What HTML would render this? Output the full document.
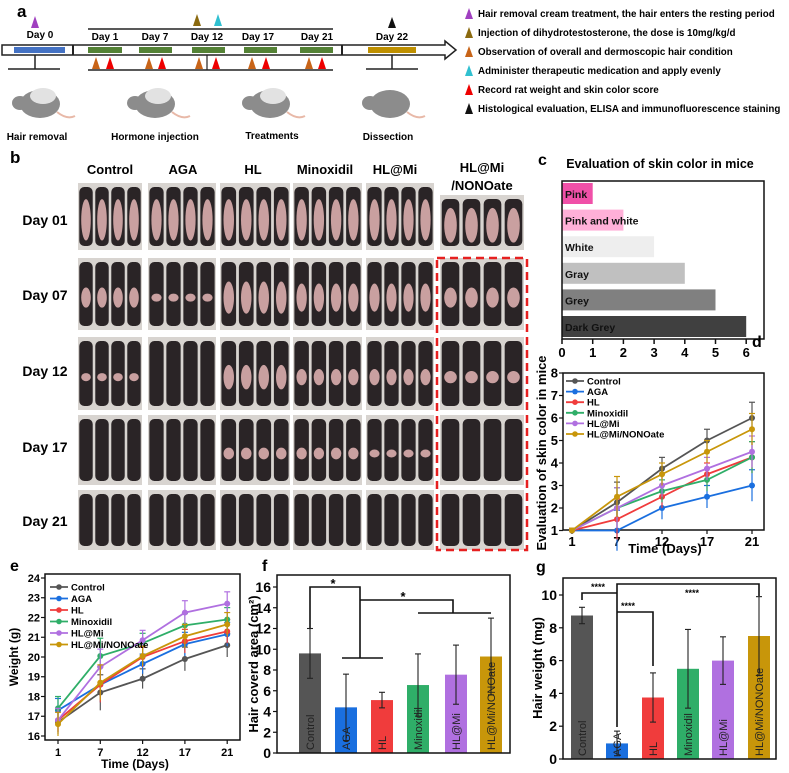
<!DOCTYPE html>
<html><head><meta charset="utf-8"><style>
body{margin:0;background:#fff}
svg{display:block;font-family:"Liberation Sans",Arial,sans-serif;font-weight:bold}
</style></head><body>
<svg id="fig" width="789" height="773" viewBox="0 0 789 773" xmlns="http://www.w3.org/2000/svg">
<!-- Panel a -->
<g>
<text x="17" y="17" font-size="17">a</text>
<polygon points="2,45 445,45 445,41 456,50 445,59 445,55 2,55" fill="#fff" stroke="#222" stroke-width="1.5"/>
<rect x="14" y="47" width="51" height="6" fill="#4472c4"/>
<rect x="72" y="45" width="2" height="10" fill="#222"/><rect x="341" y="45" width="2" height="10" fill="#222"/>
<rect x="88" y="47" width="34" height="6" fill="#548235"/><rect x="139" y="47" width="33" height="6" fill="#548235"/>
<rect x="192" y="47" width="33" height="6" fill="#548235"/><rect x="244" y="47" width="33" height="6" fill="#548235"/>
<rect x="300" y="47" width="33" height="6" fill="#548235"/><rect x="368" y="47" width="48" height="6" fill="#bf9000"/>
<line x1="88" y1="29" x2="333" y2="29" stroke="#222" stroke-width="1.5"/>
<line x1="88" y1="70" x2="333" y2="70" stroke="#222" stroke-width="1.5"/>
<line x1="207" y1="55" x2="207" y2="70" stroke="#222" stroke-width="1.2"/>
<line x1="35" y1="55" x2="35" y2="69" stroke="#222" stroke-width="1.5"/><line x1="8" y1="69" x2="60" y2="69" stroke="#222" stroke-width="1.5"/>
<line x1="392" y1="55" x2="392" y2="69" stroke="#222" stroke-width="1.5"/><line x1="366" y1="69" x2="418" y2="69" stroke="#222" stroke-width="1.5"/>
<g font-size="10" text-anchor="middle">
<text x="40" y="38">Day 0</text><text x="105" y="40">Day 1</text><text x="155" y="40">Day 7</text><text x="207" y="40">Day 12</text><text x="258" y="40">Day 17</text><text x="317" y="40">Day 21</text><text x="392" y="40">Day 22</text>
</g>
<polygon points="31,28 35,16 39,28" fill="#a040c0"/>
<polygon points="193,26 197,14 201,26" fill="#8b6a10"/>
<polygon points="214,26 218,14 222,26" fill="#30c0d0"/>
<polygon points="388,28 392,17 396,28" fill="#111"/>
<g id="triRow"></g>
<g font-size="10" text-anchor="middle">
<text x="37" y="140">Hair removal</text><text x="155" y="140">Hormone injection</text><text x="272" y="139">Treatments</text><text x="388" y="140">Dissection</text>
</g>
<g id="mice" fill="#8a8a8a"></g>
</g>
<g font-size="9.8">
<polygon points="465,19 469,8 473,19" fill="#a040c0"/><text x="478" y="17">Hair removal cream treatment, the hair enters the resting period</text>
<polygon points="465,38 469,27 473,38" fill="#8b6a10"/><text x="478" y="36">Injection of dihydrotestosterone, the dose is 10mg/kg/d</text>
<polygon points="465,57 469,46 473,57" fill="#c86418"/><text x="478" y="55">Observation of overall and dermoscopic hair condition</text>
<polygon points="465,76 469,65 473,76" fill="#30c0d0"/><text x="478" y="74">Administer therapeutic medication and apply evenly</text>
<polygon points="465,95 469,84 473,95" fill="#e00"/><text x="478" y="93">Record rat weight and skin color score</text>
<polygon points="465,114 469,103 473,114" fill="#111"/><text x="478" y="112">Histological evaluation, ELISA and immunofluorescence staining</text>
</g>
<!-- Panel b -->
<g>
<text x="10" y="163" font-size="17">b</text>
<g font-size="14" text-anchor="middle">
<text x="45" y="225">Day 01</text><text x="45" y="300">Day 07</text><text x="45" y="376">Day 12</text><text x="45" y="452">Day 17</text><text x="45" y="526">Day 21</text>
</g>
<g id="photos"></g>
<g font-size="13" text-anchor="middle">
<text x="110" y="174">Control</text><text x="183" y="174">AGA</text><text x="253" y="174">HL</text><text x="325" y="174">Minoxidil</text><text x="395" y="174">HL@Mi</text><text x="482" y="172">HL@Mi</text><text x="482" y="190">/NONOate</text>
</g>
<rect x="437" y="258" width="90" height="292" fill="none" stroke="#e62020" stroke-width="2.5" stroke-dasharray="8,5"/>
</g>
<!-- Panel c -->
<g>
<text x="538" y="165" font-size="16">c</text>
<text x="660" y="168" font-size="12.5" text-anchor="middle">Evaluation of skin color in mice</text>
<g id="cBars"></g>
<rect x="562" y="181" width="202" height="158" fill="none" stroke="#111" stroke-width="1.5"/>
<g id="cAxis"></g>
</g>
<g id="panelD">
<text x="752" y="347" font-size="16">d</text>
</g>
<g id="panelE">
<text x="10" y="571" font-size="16">e</text>
</g>
<g id="panelF">
<text x="262" y="571" font-size="16">f</text>
</g>
<g id="panelG">
<text x="536" y="572" font-size="16">g</text>
</g>
</svg>
<script>
// ---- data ----
const skinLabels = ["Pink","Pink and white","White","Gray","Grey","Dark Grey"];
const skinValues = [1,2,3,4,5,6];
const skinColors = ["#f050a8","#ffb0d8","#eeeeee","#c0c0c0","#808080","#404040"];
const cTicks = [0,1,2,3,4,5,6];

const groups = ["Control","AGA","HL","Minoxidil","HL@Mi","HL@Mi/NONOate"];
const groupColors = ["#555555","#1a6fdf","#f03c3c","#2fae68","#b070e0","#c8960a"];
const days = ["1","7","12","17","21"];

const skinControl = [1,2.25,3.75,5.0,6.0];
const skinAGA = [1,1.0,2.0,2.5,3.0];
const skinHL = [1,1.5,2.5,3.5,4.25];
const skinMinox = [1,2.0,2.75,3.25,4.25];
const skinHLMi = [1,2.0,3.0,3.75,4.5];
const skinNONO = [1,2.5,3.5,4.5,5.5];
const skinErr = [0.1,0.9,0.5,0.5,0.7];
const dTicks = [1,2,3,4,5,6,7,8];

const wControl = [16.7,18.2,18.9,19.9,20.6];
const wAGA = [17.3,18.6,19.65,20.65,21.15];
const wHL = [16.8,18.6,20.0,20.8,21.3];
const wMinox = [17.4,20.05,20.7,21.6,21.9];
const wHLMi = [16.8,19.5,20.85,22.25,22.7];
const wNONO = [16.6,18.7,20.05,21.05,21.65];
const wErr = [0.6,0.9,0.5,0.6,0.6];
const eTicks = [16,17,18,19,20,21,22,23,24];

const areaValues = [9.6,4.4,5.1,6.55,7.55,9.3];
const areaErr = [2.4,3.2,0.75,3.0,2.85,3.7];
const fTicks = [0,2,4,6,8,10,12,14,16];

const hairValues = [8.75,0.95,3.75,5.5,6.0,7.5];
const hairErr = [0.5,0.75,1.5,2.4,1.45,2.4];
const gTicks = [0,2,4,6,8,10];

const NS="http://www.w3.org/2000/svg";
function mk(parent,tag,attrs,text){const e=document.createElementNS(NS,tag);for(const k in attrs)e.setAttribute(k,attrs[k]);if(text!==undefined)e.textContent=text;parent.appendChild(e);return e;}

// panel a triangles & mice
const tri=document.getElementById('triRow');
[96,149,199,252,309].forEach(x=>{mk(tri,'polygon',{points:`${x-4},69 ${x},57 ${x+4},69`,fill:'#c86418'});});
[110,162,216,266,322].forEach(x=>{mk(tri,'polygon',{points:`${x-4},69 ${x},57 ${x+4},69`,fill:'#e00'});});
const mice=document.getElementById('mice');
[35,150,265,385].forEach((x,i)=>{
 const m=mk(mice,'g',{});
 
 
 mk(m,'ellipse',{cx:x+5,cy:104,rx:20,ry:14,fill:'#8c8c8c'});
 mk(m,'ellipse',{cx:x-15,cy:103,rx:8,ry:7,fill:'#8c8c8c'});
 if(i<3) mk(m,'ellipse',{cx:x+8,cy:96,rx:13,ry:8,fill:'#e2e2e2'});
 mk(m,'path',{d:`M${x+22},112 q10,8 18,4`,stroke:'#e8b9a8','stroke-width':2,fill:'none'});
});

// panel b photos
const ph=document.getElementById('photos');
const colX=[78,148,220,293,366,440], colW=[64,68,70,69,68,84];
const rowY=[183,258,337,415,490], rowH=[67,72,73,70,60];
const bellyByCol=[[1,.4,.1,0,0],[1,.1,0,0,0],[1,.7,.5,.2,0],[1,.6,.3,.2,0],[1,.6,.3,.1,0],[1,.4,.2,0,0]];
for(let r=0;r<5;r++)for(let c=0;c<6;c++){
 const g=mk(ph,'g',{});
 
 
 const top=(c===5&&r===0)?195:rowY[r];
 const h=rowH[r]-(top-rowY[r]);
 mk(g,'rect',{x:colX[c],y:top,width:colW[c],height:h,fill:'#d8d4d0'});
 const w=colW[c]/4;
 for(let k=0;k<4;k++){
  const cx=colX[c]+w*k+w/2;
  mk(g,'rect',{x:cx-w*0.42,y:top+4,width:w*0.84,height:h-8,rx:5,fill:'#2a2426'});
  const b=bellyByCol[c][r];
  if(b>0) mk(g,'ellipse',{cx:cx,cy:top+h*0.55,rx:w*0.3,ry:h*0.28*b+2,fill:'#c9a0a0'});
 }
}

// panel c
const cB=document.getElementById('cBars'), cA=document.getElementById('cAxis');
const cx0=562, cPx=30.7;
const cX=v=>cx0+v*cPx;
skinLabels.forEach((l,i)=>{
 const y=183+i*26.6;
 const r=mk(cB,'rect',{x:cX(0),y:y,width:cX(skinValues[i])-cX(0),height:21,fill:skinColors[i]});
 
 
 mk(cB,'text',{x:cX(0)+3,y:y+15,'font-size':10.5,fill:'#111'},l);
});
cTicks.forEach(t=>{mk(cA,'line',{x1:cX(t),y1:339,x2:cX(t),y2:344,stroke:'#111','stroke-width':1.5});
 mk(cA,'text',{x:cX(t),y:357,'font-size':13,'text-anchor':'middle'},t);});

// generic line chart
function lineChart(gid,box,ymin,ymax,ticks,series,err,tfs,legend){
 const G=document.getElementById(gid);
 const X=i=>box.x0+box.pad+i*box.step;
 const Y=v=>box.yb-(v-ymin)/(ymax-ymin)*(box.yb-box.yt);
 mk(G,'rect',{x:box.x,y:box.y,width:box.w,height:box.h,fill:'none',stroke:'#111','stroke-width':1.5});
 ticks.forEach(t=>{mk(G,'line',{x1:box.x-4,y1:Y(t),x2:box.x,y2:Y(t),stroke:'#111','stroke-width':1.2});
  mk(G,'text',{x:box.x-5,y:Y(t)+tfs*0.36,'font-size':tfs,'text-anchor':'end'},t);});
 days.forEach((d,i)=>{mk(G,'line',{x1:X(i),y1:box.y+box.h,x2:X(i),y2:box.y+box.h+4,stroke:'#111','stroke-width':1.2});
  mk(G,'text',{x:X(i),y:box.y+box.h+16,'font-size':tfs,'text-anchor':'middle'},d);});
 series.forEach((s,k)=>{
  const col=groupColors[k];
  s.forEach((v,i)=>{mk(G,'line',{x1:X(i),y1:Y(v-err[i]),x2:X(i),y2:Y(v+err[i]),stroke:col,'stroke-width':1.2});
   mk(G,'line',{x1:X(i)-3,y1:Y(v+err[i]),x2:X(i)+3,y2:Y(v+err[i]),stroke:col,'stroke-width':1.2});});
  const p=mk(G,'polyline',{points:s.map((v,i)=>X(i)+','+Y(v)).join(' '),fill:'none',stroke:col,'stroke-width':1.8});
  
  
  s.forEach((v,i)=>{mk(G,'circle',{cx:X(i),cy:Y(v),r:3,fill:col});});
  const ly=legend.y+k*legend.dy;
  mk(G,'line',{x1:legend.x,y1:ly,x2:legend.x+18,y2:ly,stroke:col,'stroke-width':1.8});
  mk(G,'circle',{cx:legend.x+9,cy:ly,r:2.8,fill:col});
  const lt=mk(G,'text',{x:legend.x+21,y:ly+3.5,'font-size':legend.fs},groups[k]);
  
  
 });
 return {X,Y};
}
lineChart('panelD',{x:563,y:373,w:201,h:157,x0:563,pad:9,step:45,yt:373,yb:530.5},1,8,dTicks,
 [skinControl,skinAGA,skinHL,skinMinox,skinHLMi,skinNONO],skinErr,13,{x:566,y:381,dy:10.6,fs:9.5});
const gd=document.getElementById('panelD');
mk(gd,'text',{x:665,y:553,'font-size':13,'text-anchor':'middle'},'Time (Days)');
mk(gd,'text',{x:0,y:0,'font-size':13,'text-anchor':'middle',transform:'translate(546,453) rotate(-90)'},'Evaluation of skin color in mice');

lineChart('panelE',{x:45,y:574,w:195,h:166,x0:45,pad:13,step:42.3,yt:578,yb:736},16,24,eTicks,
 [wControl,wAGA,wHL,wMinox,wHLMi,wNONO],wErr,11,{x:50,y:587,dy:11.5,fs:9.5});
const ge=document.getElementById('panelE');
mk(ge,'text',{x:135,y:768,'font-size':12,'text-anchor':'middle'},'Time (Days)');
mk(ge,'text',{x:0,y:0,'font-size':12,'text-anchor':'middle',transform:'translate(18,657) rotate(-90)'},'Weight (g)');

// bar charts
function barChart(gid,box,ymax,ticks,vals,err,centers){
 const G=document.getElementById(gid);
 const Y=v=>box.yb-v/ymax*(box.yb-box.yt);
 vals.forEach((v,i)=>{
  const r=mk(G,'rect',{x:centers[i]-11,y:Y(v),width:22,height:Y(0)-Y(v),fill:groupColors[i]});
  
  
  mk(G,'line',{x1:centers[i],y1:Y(v-err[i]),x2:centers[i],y2:Y(v+err[i]),stroke:'#222','stroke-width':1.1});
  [v-err[i],v+err[i]].forEach(e=>mk(G,'line',{x1:centers[i]-3,y1:Y(e),x2:centers[i]+3,y2:Y(e),stroke:'#222','stroke-width':1.1}));
  mk(G,'text',{x:0,y:0,'font-size':11,'font-weight':'normal',fill:'#222',transform:`translate(${centers[i]+4},${Y(0)-3}) rotate(-90)`},groups[i]);
 });
 mk(G,'rect',{x:box.x,y:box.y,width:box.w,height:box.h,fill:'none',stroke:'#111','stroke-width':1.5});
 ticks.forEach(t=>{mk(G,'line',{x1:box.x-4,y1:Y(t),x2:box.x,y2:Y(t),stroke:'#111','stroke-width':1.2});
  mk(G,'text',{x:box.x-6,y:Y(t)+5,'font-size':14,'text-anchor':'end'},t);});
 return Y;
}
barChart('panelF',{x:277,y:575,w:233,h:178,yt:587,yb:753},16,fTicks,areaValues,areaErr,[310,346,382,418,456,491]);
const gf=document.getElementById('panelF');
mk(gf,'text',{x:0,y:0,'font-size':13,'text-anchor':'middle',transform:'translate(258,664) rotate(-90)'},'Hair coverd area (cm²)');
mk(gf,'path',{d:'M310,628 V587 H360 V658 M342,658 H383 M360,600 H453 V613 M418,613 H491',fill:'none',stroke:'#111','stroke-width':1.6});
mk(gf,'text',{x:333,y:588,'font-size':13,'text-anchor':'middle'},'*');
mk(gf,'text',{x:403,y:601,'font-size':13,'text-anchor':'middle'},'*');

barChart('panelG',{x:563,y:578,w:213,h:181,yt:595,yb:759},10,gTicks,hairValues,hairErr,[582,617,653,688,723,759]);
const gg=document.getElementById('panelG');
mk(gg,'text',{x:0,y:0,'font-size':13,'text-anchor':'middle',transform:'translate(542,668) rotate(-90)'},'Hair weight (mg)');
mk(gg,'path',{d:'M582,600 V593 H617 M617,727 V584 H759 V596 M617,612 H653 V666',fill:'none',stroke:'#111','stroke-width':1.6});
mk(gg,'text',{x:598,y:590,'font-size':9,'text-anchor':'middle'},'****');
mk(gg,'text',{x:628,y:609,'font-size':9,'text-anchor':'middle'},'****');
mk(gg,'text',{x:692,y:596,'font-size':9,'text-anchor':'middle'},'****');
</script>
</body></html>
